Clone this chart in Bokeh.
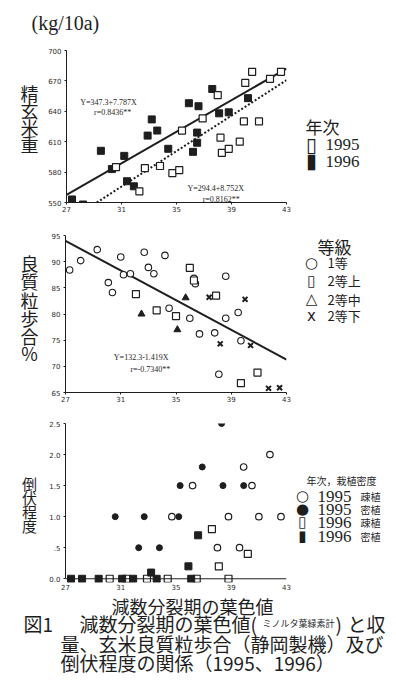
from bokeh.plotting import figure
from bokeh.models import FixedTicker, Span
from bokeh.layouts import column, row
from bokeh.core.properties import value
from bokeh.embed import file_html
from bokeh.resources import INLINE

# ---------------- data ----------------
x_ticks = [27, 31, 35, 39, 43]

# panel 1: brown rice weight (kg/10a)
yield96_x = [27.4, 28.2, 29.5, 30.3, 31.2, 31.4, 31.9, 32.9, 33.2, 33.6, 34.4, 35.9, 36.2, 36.5, 36.5, 36.6, 37.6, 38.1, 38.8, 40.2]
yield96_y = [553, 548, 601, 583, 596, 571, 566, 616, 632, 621, 603, 648, 600, 619, 609, 645, 662, 638, 639, 653]
yield95_x = [30.6, 32.7, 32.3, 33.8, 34.7, 35.2, 35.4, 36.9, 38.0, 38.2, 38.3, 38.8, 39.6, 39.9, 40.0, 40.5, 41.0, 41.8, 42.6]
yield95_y = [585, 584, 561, 586, 579, 582, 621, 633, 656, 614, 599, 603, 610, 630, 668, 679, 630, 672, 679]
yield_ticks = [550, 580, 610, 640, 670, 700]
reg96 = (347.3, 7.787)
reg95 = (294.4, 8.752)
reg_x = [27, 43]

# panel 2: good grain ratio (%)
grade1_x = [27.3, 28.1, 29.3, 30.1, 30.4, 31.0, 31.2, 31.7, 32.7, 33.0, 33.4, 34.2, 34.5, 36.0, 36.4, 36.7, 37.8, 38.1, 38.6, 38.6, 39.5, 39.7, 36.3]
grade1_y = [88.4, 90.2, 92.3, 86.0, 84.1, 90.9, 87.5, 87.7, 91.8, 88.9, 87.7, 91.2, 81.1, 79.2, 85.8, 76.2, 76.4, 68.5, 87.2, 79.2, 80.3, 74.9, 86.8]
grade2u_x = [32.1, 33.6, 35.0, 36.0, 37.9, 39.7, 40.9, 36.3]
grade2u_y = [83.8, 80.7, 79.6, 88.8, 83.5, 66.8, 68.8, 86.4]
grade2m_x = [32.5, 35.1, 35.7]
grade2m_y = [80.0, 77.0, 83.1]
grade2l_x = [37.4, 38.2, 40.0, 40.4, 41.7, 42.5]
grade2l_y = [83.2, 74.3, 82.8, 74.0, 65.8, 65.9]
quality_ticks = [65, 70, 75, 80, 85, 90, 95]
reg_q = (132.3, -1.419)

# panel 3: lodging degree
dense95_x = [30.6, 32.3, 32.7, 33.8, 35.2, 35.3, 36.9, 38.3, 38.4, 39.9]
dense95_y = [1.0, 0.5, 1.0, 0.5, 1.0, 1.5, 1.8, 2.5, 1.5, 1.5]
sparse95_x = [34.7, 36.2, 38.0, 38.8, 39.6, 39.9, 40.5, 41.0, 41.8, 42.6]
sparse95_y = [1.0, 1.5, 0.5, 1.0, 0.5, 1.8, 1.5, 1.0, 2.0, 1.0]
sparse96_x = [30.2, 31.4, 32.9, 34.4, 36.5, 37.6, 38.1, 38.8, 40.2]
sparse96_y = [0, 0, 0, 0, 0, 0.8, 0.2, 0, 0.4]
dense96_x = [27.4, 28.2, 29.4, 31.1, 31.9, 33.2, 33.6, 35.9, 36.1, 36.6]
dense96_y = [0, 0, 0, 0, 0, 0.1, 0, 0.2, 0, 0.7]
lodging_ticks = [0, 0.5, 1.0, 1.5, 2.0, 2.5]
lodging_labels = {0: "0.0", 0.5: ".5", 1.0: "1.0", 1.5: "1.5", 2.0: "2.0", 2.5: "2.5"}

# ---------------- layout ----------------
W = 396
LW = 45          # left text column
PL, PF, PR = 20, 221, 6   # chart: left border, frame width, right border
PW = PL + PF + PR
RW = W - LW - PW  # right text column
INK = "#1e1e1e"
JP = "Noto Sans CJK JP"
SERIF = "Liberation Serif"
SYM = "DejaVu Sans"


def chart(h, top, bottom, yr, yticks):
    p = figure(width=PW, height=h, x_range=(27, 43), y_range=yr,
               min_border_left=PL, min_border_right=PR,
               min_border_top=top, min_border_bottom=bottom,
               output_backend="svg", toolbar_location=None, title=None)
    p.outline_line_color = None
    p.grid.visible = False
    for ax in (p.xaxis, p.yaxis):
        ax.axis_line_color = INK
        ax.axis_line_width = 1
        ax.major_tick_line_color = INK
        ax.major_tick_out = 2
        ax.major_tick_in = 0
        ax.minor_tick_line_color = None
        ax.major_label_text_font = "DejaVu Sans"
        ax.major_label_text_font_size = "7px"
        ax.major_label_text_color = "#2a2a2a"
        ax.major_label_standoff = 1
    p.yaxis.major_label_standoff = 3
    p.xaxis.ticker = FixedTicker(ticks=x_ticks)
    p.yaxis.ticker = FixedTicker(ticks=yticks)
    return p


def textfig(w, h):
    f = figure(width=w, height=h, x_range=(0, w), y_range=(h, 0), min_border=0,
               x_axis_type=None, y_axis_type=None,
               output_backend="svg", toolbar_location=None, title=None)
    f.outline_line_color = None
    return f


def t(f, x, y, s, size, font=JP, align="left"):
    f.text(x=[x], y=[y], text=[s], text_font=value(font), text_font_size=value(f"{size}px"),
           text_align=value(align), text_baseline=value("middle"), text_color=INK)


# ---- top title strip (y 0-36) ----
T = textfig(W, 36)
t(T, 31, 22, "(kg/10a)", 20, font=SERIF)

# ---- row 1 (y 36-220) ----
Y1 = 36
p1 = chart(184, 14, 18, (550, 700), yield_ticks)
p1.line(reg_x, [reg96[0] + reg96[1] * v for v in reg_x], line_color=INK, line_width=2)
p1.line(reg_x, [reg95[0] + reg95[1] * v for v in reg_x], line_color=INK, line_width=2, line_dash="2 2")
p1.scatter(yield96_x, yield96_y, marker="square", size=7, fill_color=INK, line_color=INK)
p1.scatter(yield95_x, yield95_y, marker="square", size=7, fill_color="white", line_color=INK, line_width=1.2)
p1.text(x=[28.0, 29.0, 35.8, 36.9], y=[648.5, 638.5, 564.0, 552.7],
        text=["Y=347.3+7.787X", "r=0.8436**", "Y=294.4+8.752X", "r=0.8162**"],
        text_font=value(SERIF), text_font_size=value("8px"), text_baseline=value("middle"),
        text_color=INK)
L1 = textfig(LW, 184)
for ch, yy in zip("精玄米重", [87, 108, 128, 149]):
    t(L1, 29, yy - Y1, ch, 18, align="center")
R1 = textfig(RW, 184)
RX = LW + PW
t(R1, 305 - RX, 128 - Y1, "年次", 17)
t(R1, 311 - RX, 150 - Y1, "▯", 20, font=SYM, align="center")
t(R1, 325 - RX, 150 - Y1, "1995", 17, font=SERIF)
t(R1, 311 - RX, 170 - Y1, "▮", 20, font=SYM, align="center")
t(R1, 325 - RX, 170 - Y1, "1996", 17, font=SERIF)

# ---- row 2 (y 220-410) ----
Y2 = 220
p2 = chart(190, 15, 18, (65, 95), quality_ticks)
p2.line(reg_x, [reg_q[0] + reg_q[1] * v for v in reg_x], line_color=INK, line_width=2)
p2.scatter(grade1_x, grade1_y, marker="circle", size=6.5, fill_color="white", line_color=INK, line_width=1.1)
p2.scatter(grade2u_x, grade2u_y, marker="square", size=7, fill_color="white", line_color=INK, line_width=1.2)
p2.scatter(grade2m_x, grade2m_y, marker="triangle", size=7, fill_color=INK, line_color=INK)
p2.scatter(grade2l_x, grade2l_y, marker="x", size=7, line_color=INK, line_width=2)
p2.text(x=[30.5, 31.7], y=[71.7, 69.3], text=["Y=132.3-1.419X", "r=-0.7340**"],
        text_font=value(SERIF), text_font_size=value("8px"), text_baseline=value("middle"),
        text_color=INK)
L2 = textfig(LW, 190)
for ch, yy in zip("良質粒歩合％", [253, 275, 298, 320, 342, 362]):
    t(L2, 29, yy - Y2, ch, 18, align="center")
R2 = textfig(RW, 190)
t(R2, 317 - RX, 233 - Y2, "等級", 17)
for mk, txt, yy in [("○", "1等", 253), ("▯", "2等上", 275), ("△", "2等中", 297), ("x", "2等下", 317)]:
    t(R2, 311 - RX, yy - Y2, mk, 15, font=SYM, align="center")
    t(R2, 327 - RX, yy - Y2, txt, 13)

# ---- row 3 (y 410-592) ----
Y3 = 410
p3 = chart(182, 13, 10, (-0.06, 2.5), lodging_ticks)
p3.yaxis.major_label_overrides = lodging_labels
p3.yaxis.bounds = (0, 2.5)
p3.xaxis.axis_line_color = None
p3.xaxis.major_tick_out = 0
p3.add_layout(Span(location=0, dimension="width", line_color=INK, line_width=1))
p3.scatter(dense95_x, dense95_y, marker="circle", size=6, fill_color=INK, line_color=INK)
p3.scatter(sparse95_x, sparse95_y, marker="circle", size=6.5, fill_color="white", line_color=INK, line_width=1.2)
p3.scatter(sparse96_x, sparse96_y, marker="square", size=7, fill_color="white", line_color=INK, line_width=1.2)
p3.scatter(dense96_x, dense96_y, marker="square", size=7, fill_color=INK, line_color=INK)
L3 = textfig(LW, 182)
for ch, yy in zip("倒伏程度", [479, 495, 511, 527]):
    t(L3, 29, yy - Y3, ch, 15, align="center")
R3 = textfig(RW, 182)
t(R3, 306 - RX, 475 - Y3, "年次，栽植密度", 10)
for mk, yr_, dens, yy in [("○", "1995", "疎植", 493), ("●", "1995", "密植", 508),
                          ("▯", "1996", "疎植", 523), ("▮", "1996", "密植", 539)]:
    t(R3, 302 - RX, yy - Y3, mk, 15, font=SYM, align="center")
    t(R3, 317 - RX, yy - Y3, yr_, 17, font=SERIF)
    t(R3, 360 - RX, yy - Y3, dens, 10)

# ---- caption (y 592-686) ----
Y4 = 592
C = textfig(W, 94)
t(C, 192, 605 - Y4, "減数分裂期の葉色値", 18, align="center")
t(C, 23, 623 - Y4, "図1", 19)
t(C, 79, 623 - Y4, "減数分裂期の葉色値(", 19)
t(C, 262, 623 - Y4, "ミノルタ葉緑素計", 9)
t(C, 335, 623 - Y4, ")", 19)
t(C, 347, 623 - Y4, "と収", 19)
t(C, 60, 643 - Y4, "量、玄米良質粒歩合（静岡製機）及び", 19)
t(C, 60, 662 - Y4, "倒伏程度の関係（1995、1996）", 19)

layout = column(
    T,
    row(L1, p1, R1, spacing=0),
    row(L2, p2, R2, spacing=0),
    row(L3, p3, R3, spacing=0),
    C,
    spacing=0,
)
open("out.html", "w").write(file_html(layout, INLINE))
